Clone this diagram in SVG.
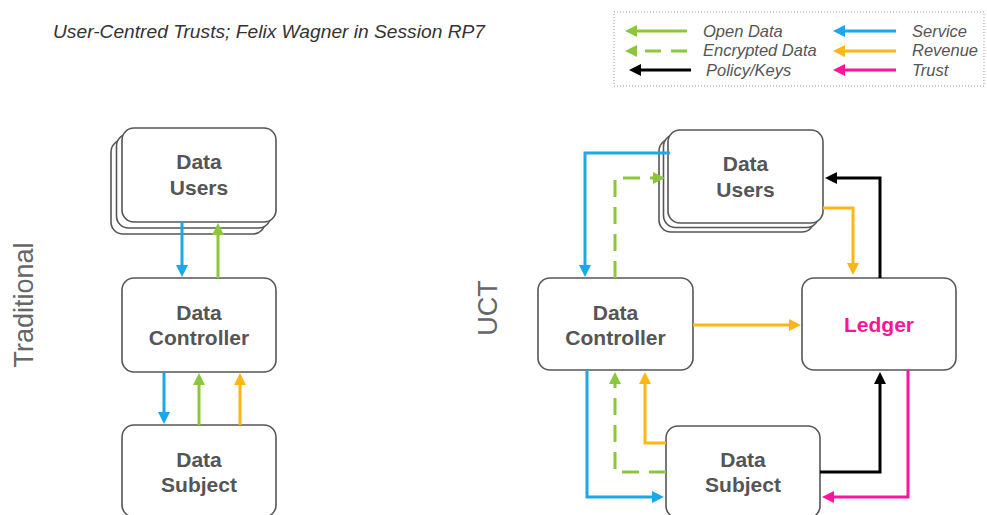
<svg xmlns="http://www.w3.org/2000/svg" width="987" height="515" viewBox="0 0 987 515">
<style>
.box{fill:#fff;stroke:#555;stroke-width:1.6}
.lbl{font-family:"Liberation Sans",Arial,sans-serif;font-weight:bold;font-size:21px;fill:#555;text-anchor:middle}
.leg{font-family:"Liberation Sans",Arial,sans-serif;font-style:italic;font-size:16.5px;fill:#555}
.side{font-family:"Liberation Sans",Arial,sans-serif;font-size:27px;fill:#666;text-anchor:middle}
.c{fill:none;stroke-width:3}
.b{stroke:#1AA9E6;marker-end:url(#mb)}
.g{stroke:#8CC63F;marker-end:url(#mg)}
.o{stroke:#FDB614;marker-end:url(#mo)}
.k{stroke:#000;marker-end:url(#mk)}
.p{stroke:#FF149A;marker-end:url(#mp)}
.d{stroke-dasharray:17 10}
</style>
<defs>
<marker id="mb" markerUnits="userSpaceOnUse" markerWidth="12" markerHeight="12" refX="2" refY="6" orient="auto"><path d="M0,0 L12,6 L0,12 z" fill="#1AA9E6"/></marker>
<marker id="mg" markerUnits="userSpaceOnUse" markerWidth="12" markerHeight="12" refX="2" refY="6" orient="auto"><path d="M0,0 L12,6 L0,12 z" fill="#8CC63F"/></marker>
<marker id="mo" markerUnits="userSpaceOnUse" markerWidth="12" markerHeight="12" refX="2" refY="6" orient="auto"><path d="M0,0 L12,6 L0,12 z" fill="#FDB614"/></marker>
<marker id="mk" markerUnits="userSpaceOnUse" markerWidth="12" markerHeight="12" refX="2" refY="6" orient="auto"><path d="M0,0 L12,6 L0,12 z" fill="#000"/></marker>
<marker id="mp" markerUnits="userSpaceOnUse" markerWidth="12" markerHeight="12" refX="2" refY="6" orient="auto"><path d="M0,0 L12,6 L0,12 z" fill="#FF149A"/></marker>
</defs>
<rect width="987" height="515" fill="#fff"/>
<text x="53" y="38" font-family="'Liberation Sans',Arial,sans-serif" font-style="italic" font-size="18.5" fill="#333" textLength="432" lengthAdjust="spacingAndGlyphs">User-Centred Trusts; Felix Wagner in Session RP7</text>

<g id="legend">
<rect x="614" y="12" width="370" height="74" fill="none" stroke="#999" stroke-width="1" stroke-dasharray="1 2"/>
<path class="c g" d="M687,31 H635"/>
<path class="c g d" d="M687,51 H635" style="stroke-dasharray:16 10"/>
<path class="c k" d="M691,70 H639"/>
<path class="c b" d="M896,31 H843"/>
<path class="c o" d="M896,51 H843"/>
<path class="c p" d="M896,70 H843"/>
<text class="leg" x="703" y="37">Open Data</text>
<text class="leg" x="703" y="56">Encrypted Data</text>
<text class="leg" x="706" y="76">Policy/Keys</text>
<text class="leg" x="912" y="37">Service</text>
<text class="leg" x="912" y="56">Revenue</text>
<text class="leg" x="912" y="76">Trust</text>
</g>

<text class="side" transform="translate(33,305) rotate(-90)">Traditional</text>
<text class="side" transform="translate(497,308) rotate(-90)">UCT</text>

<g id="trad-users">
<rect class="box" x="111" y="140" width="154" height="94" rx="12"/>
<rect class="box" x="116.5" y="134" width="154" height="94" rx="12"/>
<rect class="box" x="122" y="128" width="154" height="94" rx="12"/>
<text class="lbl" x="199" y="169">Data</text>
<text class="lbl" x="199" y="195">Users</text>
</g>
<g id="trad-controller">
<rect class="box" x="122" y="278" width="154" height="94" rx="12"/>
<text class="lbl" x="199" y="320">Data</text>
<text class="lbl" x="199" y="345">Controller</text>
</g>
<g id="trad-subject">
<rect class="box" x="122" y="425" width="154" height="92" rx="12"/>
<text class="lbl" x="199" y="467">Data</text>
<text class="lbl" x="199" y="492">Subject</text>
</g>

<g id="uct-users">
<rect class="box" x="659" y="139" width="155" height="93" rx="12"/>
<rect class="box" x="663.5" y="134.5" width="155" height="93" rx="12"/>
<rect class="box" x="668" y="130" width="155" height="93" rx="12"/>
<text class="lbl" x="745.5" y="171">Data</text>
<text class="lbl" x="745.5" y="197">Users</text>
</g>
<g id="uct-controller">
<rect class="box" x="538" y="278" width="155" height="92" rx="12"/>
<text class="lbl" x="615.5" y="320">Data</text>
<text class="lbl" x="615.5" y="345">Controller</text>
</g>
<g id="uct-ledger">
<rect class="box" x="802" y="278" width="154" height="92" rx="12"/>
<text class="lbl" x="879" y="332" style="fill:#FF149A">Ledger</text>
</g>
<g id="uct-subject">
<rect class="box" x="666" y="426" width="154" height="92" rx="12"/>
<text class="lbl" x="743" y="467">Data</text>
<text class="lbl" x="743" y="492">Subject</text>
</g>

<g id="connectors">
<path class="c b" d="M182,222 V267"/>
<path class="c g" d="M218,278 V233"/>
<path class="c b" d="M164,372 V414"/>
<path class="c g" d="M199,425 V383"/>
<path class="c o" d="M240,425 V383"/>

<path class="c b" d="M670,153 H585 V267"/>
<path class="c g d" d="M615,278 V178 H655"/>
<path class="c o" d="M823,208 H853 V265"/>
<path class="c k" d="M880,278 V178 H835"/>
<path class="c o" d="M693,325 H791"/>
<path class="c b" d="M587,370 V497 H654"/>
<path class="c o" d="M666,443 H645 V382"/>
<path class="c g d" d="M666,472 H615 V382"/>
<path class="c k" d="M820,472 H880 V382"/>
<path class="c p" d="M908,370 V497 H832"/>
</g>
</svg>
